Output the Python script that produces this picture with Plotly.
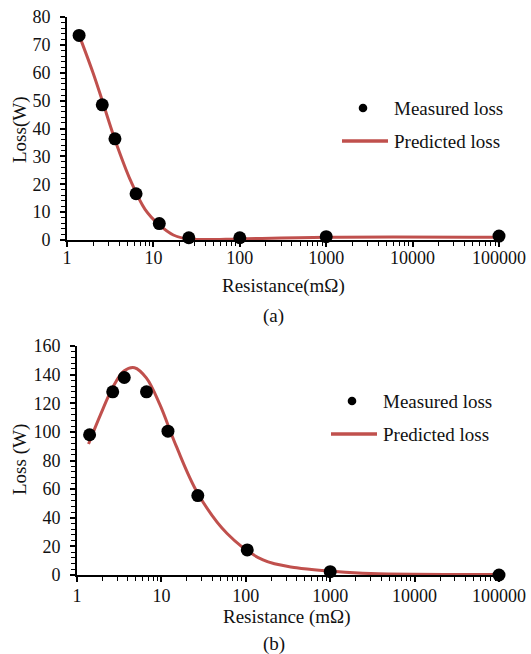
import plotly.graph_objects as go

# ---- data: panel (a) ----
res_a = [1.38, 2.56, 3.59, 6.3, 11.7, 25.7, 100, 1000, 100000]
loss_meas_a = [73.4, 48.5, 36.3, 16.6, 5.9, 0.8, 0.8, 1.2, 1.4]
res_pred_a = [1.38, 2.0, 2.56, 3.59, 5.5, 8, 11.7, 17, 25, 40, 100, 1000, 100000]
loss_pred_a = [73.5, 60, 50, 36, 21, 11, 5.4, 1.8, 0.35, 0.15, 0.4, 1.0, 1.0]

# ---- data: panel (b) ----
res_b = [1.41, 2.65, 3.63, 6.66, 11.96, 27, 104, 1000, 100000]
loss_meas_b = [98, 128, 138, 128, 100.5, 55.5, 17.5, 2.3, 0.0]
res_pred_b = [1.37, 1.9, 2.65, 3.6, 4.8, 6.66, 9.6, 15, 27, 60, 160, 400, 1000, 3000, 100000]
loss_pred_b = [91.5, 112, 131, 142.5, 144.8, 137.5, 119, 90, 57, 29, 10.5, 5, 2.8, 1.0, 0.3]

tick_vals_x = [1, 10, 100, 1000, 10000, 100000]
tick_text_x = ["1", "10", "100", "1000", "10000", "100000"]

W, H = 531, 654
FONT = "'Liberation Serif', 'Times New Roman', 'DejaVu Serif', serif"
RED = "#C0504D"
INK = "#111111"


def px_x(p):
    return p / W


def px_y(p):
    return 1 - p / H


fig = go.Figure()

line_style = dict(color=RED, width=3, shape="spline", smoothing=1.0)
fig.add_trace(go.Scatter(x=res_pred_a, y=loss_pred_a, mode="lines", line=line_style,
                         name="Predicted loss", xaxis="x", yaxis="y", showlegend=False))
fig.add_trace(go.Scatter(x=res_a, y=loss_meas_a, mode="markers", marker=dict(color="black", size=13),
                         name="Measured loss", xaxis="x", yaxis="y", showlegend=False, cliponaxis=False))
fig.add_trace(go.Scatter(x=res_pred_b, y=loss_pred_b, mode="lines", line=line_style,
                         name="Predicted loss", xaxis="x2", yaxis="y2", showlegend=False))
fig.add_trace(go.Scatter(x=res_b, y=loss_meas_b, mode="markers", marker=dict(color="black", size=13),
                         name="Measured loss", xaxis="x2", yaxis="y2", showlegend=False, cliponaxis=False))

xcommon = dict(type="log", range=[0, 5], tickmode="array", tickvals=tick_vals_x, ticktext=tick_text_x,
               showline=True, linecolor="black", linewidth=2, ticks="outside", ticklen=5, tickwidth=1.5,
               tickcolor="black", showgrid=False, zeroline=False,
               tickfont=dict(family=FONT, size=18, color=INK),
               minor=dict(ticks="outside", ticklen=4, tickwidth=1.2, tickcolor="black", dtick="D1", showgrid=False))
ycommon = dict(showline=True, linecolor="black", linewidth=2, ticks="outside", ticklen=5, tickwidth=1.5,
               tickcolor="black", showgrid=False, zeroline=False, ticklabelstandoff=6,
               tickfont=dict(family=FONT, size=18, color=INK))

fig.update_layout(
    width=W, height=H, margin=dict(l=0, r=0, t=0, b=0, autoexpand=False),
    paper_bgcolor="white", plot_bgcolor="white",
    font=dict(family=FONT, size=18, color=INK),
    xaxis=dict(domain=[px_x(67), px_x(499)], anchor="y", ticklabelstandoff=-5, **xcommon),
    yaxis=dict(domain=[px_y(240), px_y(17)], anchor="x", range=[0, 80], dtick=10,
               minor=dict(ticks="outside", ticklen=4, tickwidth=1.2, tickcolor="black", dtick=2, showgrid=False),
               **ycommon),
    xaxis2=dict(domain=[px_x(77), px_x(499)], anchor="y2", ticklabelstandoff=-2, **xcommon),
    yaxis2=dict(domain=[px_y(575), px_y(346)], anchor="x2", range=[0, 160], dtick=20,
                minor=dict(ticks="outside", ticklen=4, tickwidth=1.2, tickcolor="black", dtick=4, showgrid=False),
                **ycommon),
)

# axis titles and panel captions
texts = [
    ("Resistance(mΩ)", 283, 286, 0),
    ("(a)", 273, 316, 0),
    ("Loss(W)", 20, 130, -90),
    ("Resistance (mΩ)", 287, 617, 0),
    ("(b)", 274, 644, 0),
    ("Loss (W)", 20, 460, -90),
]
anns = []
for t, x, y, ang in texts:
    anns.append(dict(text=t, x=px_x(x), y=px_y(y), xref="paper", yref="paper", showarrow=False,
                     textangle=ang, xanchor="center", yanchor="middle",
                     font=dict(family=FONT, size=19, color=INK)))

# legends for each panel
shapes = []
for (mx, my, tx, lx0, lx1, ly) in [(363, 108, 392, 342, 388, 141), (352, 401, 381, 331, 377, 434)]:
    shapes.append(dict(type="circle", xref="paper", yref="paper",
                       x0=px_x(mx - 4.3), x1=px_x(mx + 4.3), y0=px_y(my + 4.3), y1=px_y(my - 4.3),
                       fillcolor="black", line=dict(width=0)))
    shapes.append(dict(type="line", xref="paper", yref="paper", x0=px_x(lx0), x1=px_x(lx1),
                       y0=px_y(ly), y1=px_y(ly), line=dict(color=RED, width=3.5)))
    anns.append(dict(text="Measured loss", x=px_x(tx), y=px_y(my), xref="paper", yref="paper", showarrow=False,
                     xanchor="left", yanchor="middle", font=dict(family=FONT, size=19, color=INK)))
    anns.append(dict(text="Predicted loss", x=px_x(tx), y=px_y(ly), xref="paper", yref="paper", showarrow=False,
                     xanchor="left", yanchor="middle", font=dict(family=FONT, size=19, color=INK)))

fig.update_layout(annotations=anns, shapes=shapes)

fig.write_html("out.html")
